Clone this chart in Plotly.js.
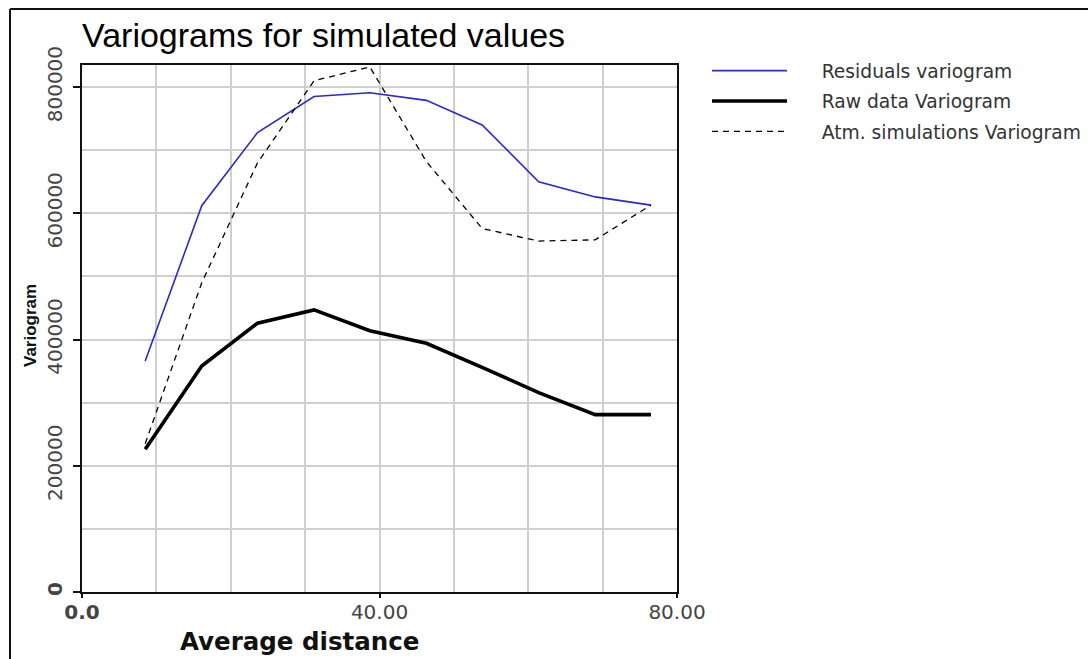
<!DOCTYPE html>
<html>
<head>
<meta charset="utf-8">
<script src="https://cdn.plot.ly/plotly-3.0.1.min.js"></script>
<style>html,body{margin:0;padding:0;background:#fff;}#chart{width:1088px;height:659px;}</style>
</head>
<body>
<div id="chart"></div>
<script>
// Data
var distance = [8.5, 16.1, 23.6, 31.2, 38.7, 46.3, 53.8, 61.4, 69.0, 76.5];
var residualsVariogram = [366000, 612000, 728000, 785000, 791000, 779000, 740000, 650000, 626000, 613000];
var rawDataVariogram = [226000, 358000, 426000, 447000, 414000, 394000, 356000, 316000, 281000, 281000];
var atmSimulationsVariogram = [235000, 490000, 680000, 810000, 832000, 682000, 576000, 556000, 558000, 613000];

var seriesNames = ["Residuals variogram", "Raw data Variogram", "Atm. simulations Variogram"];
var xTickVals = [0, 40, 80];
var xTickText = ["<b>0.0</b>", "40.00", "80.00"];
var yTickVals = [0, 200000, 400000, 600000, 800000];
var yTickText = ["<b>0</b>", "200000", "400000", "600000", "800000"];

var pad = "\u00A0\u00A0\u00A0\u00A0\u00A0";
var traces = [
  {x: distance, y: residualsVariogram, name: pad + seriesNames[0], mode: "lines", legendgroup: "a",
   line: {color: "#2a2ac6", width: 1.6}},
  {x: distance, y: rawDataVariogram, name: pad + seriesNames[1], mode: "lines", legendgroup: "b",
   line: {color: "#000000", width: 3.6}},
  {x: distance, y: atmSimulationsVariogram, name: pad + seriesNames[2], mode: "lines", legendgroup: "c",
   line: {color: "#000000", width: 1.3, dash: "6px,5px"}}
];

var W = 1088, H = 659, L = 82, R = 411, T = 65, B = 67;
var pw = W - L - R, ph = H - T - B;
function px(p) { return (p - L) / pw; }
function py(p) { return (H - B - p) / ph; }

var layout = {
  width: W, height: H,
  margin: {l: L, r: R, t: T, b: B, pad: 0, autoexpand: false},
  paper_bgcolor: "#ffffff", plot_bgcolor: "#ffffff",
  font: {family: "DejaVu Sans", color: "#333333"},
  title: {text: "Variograms for simulated values", x: 0, xref: "paper", xanchor: "left",
          y: 1 - 35 / H, yref: "container", yanchor: "middle",
          font: {family: "Liberation Sans", size: 34, color: "#000000"}},
  showlegend: true,
  legend: {x: px(707), xanchor: "left", y: py(52), yanchor: "top", itemwidth: 75,
           tracegroupgap: 3, bgcolor: "rgba(0,0,0,0)",
           font: {family: "DejaVu Sans", size: 18.7, color: "#333333"}},
  xaxis: {range: [0, 80], tickvals: xTickVals, ticktext: xTickText, showgrid: true,
          gridcolor: "#cfcfcf", gridwidth: 2, zeroline: false, automargin: false,
          showline: true, linecolor: "#111111", linewidth: 2, mirror: true,
          ticks: "outside", ticklen: 4, tickwidth: 2, tickcolor: "#111111",
          ticklabelstandoff: -3,
          tickfont: {family: "DejaVu Sans", size: 20, color: "#444444"},
          minor: {dtick: 10, tick0: 0, showgrid: true, gridcolor: "#cfcfcf", gridwidth: 2, ticks: ""},
          fixedrange: true},
  yaxis: {range: [0, 835000], tickvals: yTickVals, ticktext: yTickText, showgrid: true,
          gridcolor: "#cfcfcf", gridwidth: 2, zeroline: false, automargin: false,
          showline: true, linecolor: "#111111", linewidth: 2, mirror: true,
          ticks: "outside", ticklen: 7, tickwidth: 2, tickcolor: "#111111", tickangle: -90,
          ticklabelstandoff: 3,
          tickfont: {family: "DejaVu Sans", size: 20, color: "#444444"},
          minor: {dtick: 100000, tick0: 0, showgrid: true, gridcolor: "#cfcfcf", gridwidth: 2, ticks: ""},
          fixedrange: true},
  annotations: [
    {text: "<b>Average distance</b>", xref: "paper", yref: "paper", x: px(299), y: py(641),
     xanchor: "center", yanchor: "middle", showarrow: false,
     font: {family: "DejaVu Sans", size: 24.5, color: "#111111"}},
    {text: "<b>Variogram</b>", xref: "paper", yref: "paper", x: px(30), y: py(326),
     xanchor: "center", yanchor: "middle", showarrow: false, textangle: -90,
     font: {family: "Liberation Sans", size: 17, color: "#111111"}}
  ],
  shapes: [
    {type: "line", xref: "paper", yref: "paper", x0: px(10), x1: px(10), y0: py(9), y1: py(680),
     line: {color: "#111111", width: 2}},
    {type: "line", xref: "paper", yref: "paper", x0: px(10), x1: px(1100), y0: py(9), y1: py(9),
     line: {color: "#111111", width: 2}}
  ]
};

Plotly.newPlot("chart", traces, layout, {displayModeBar: false, staticPlot: true});
</script>
</body>
</html>
